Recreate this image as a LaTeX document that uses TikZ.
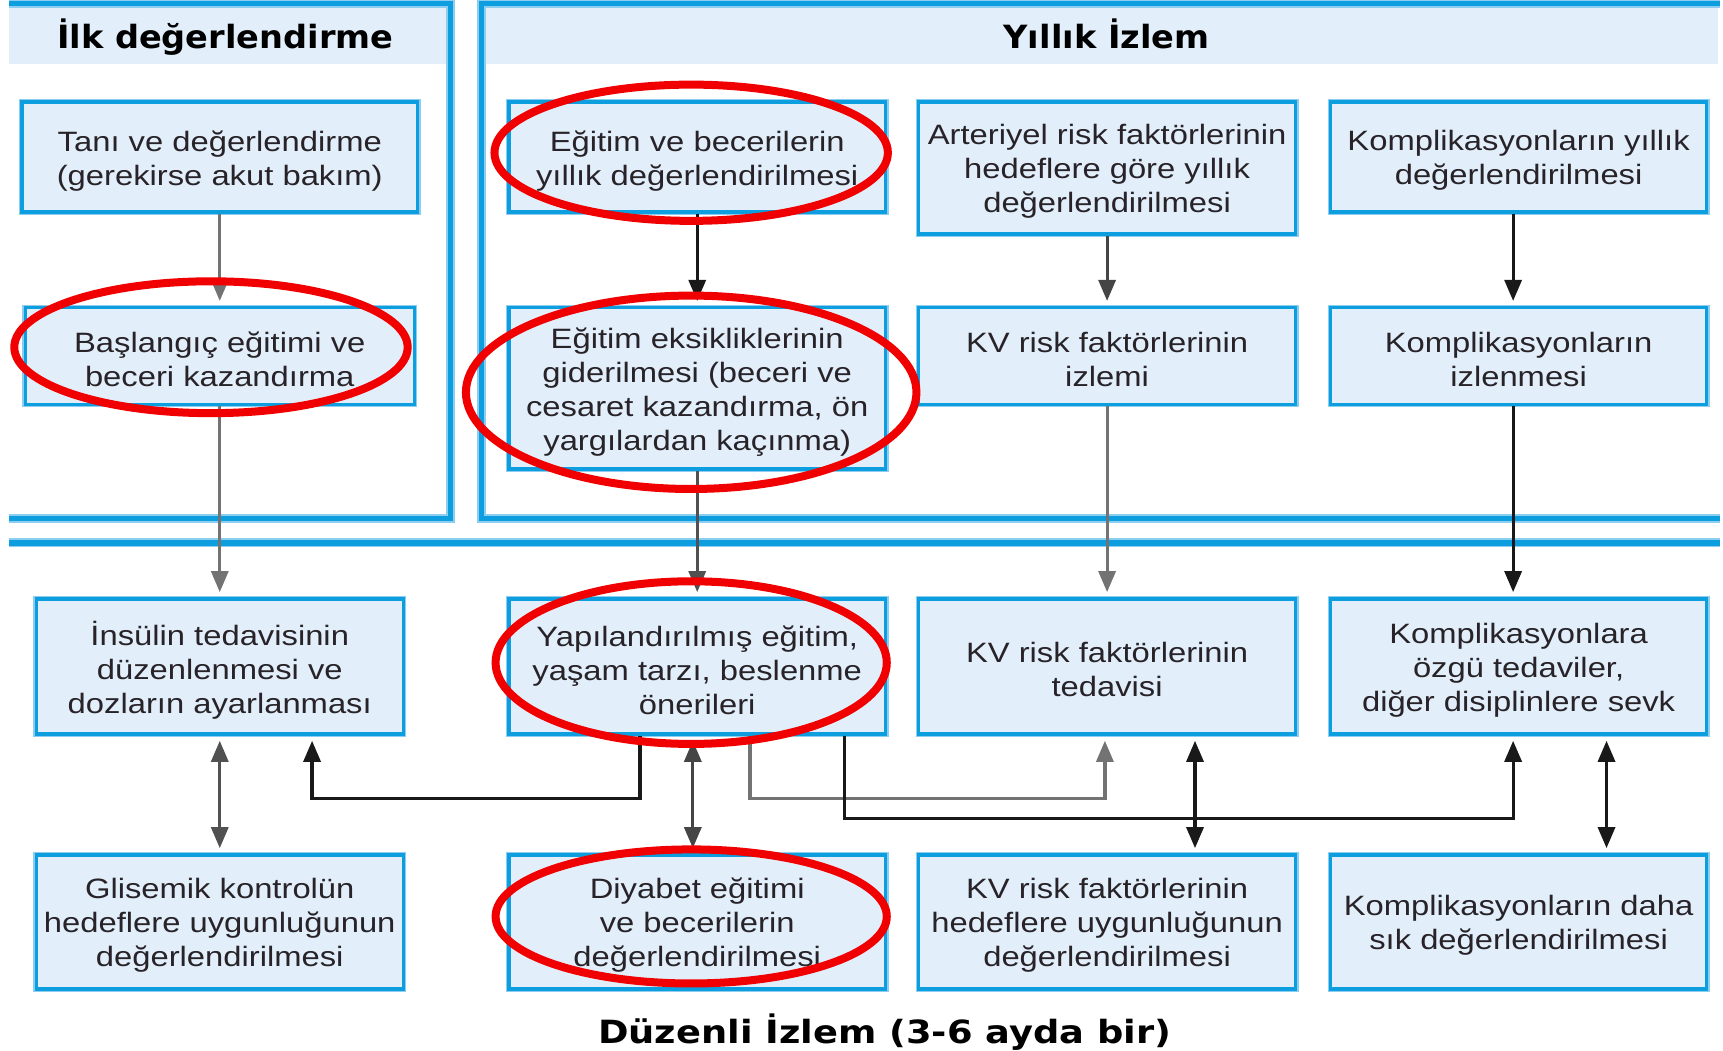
\documentclass[tikz,border=0pt]{standalone}
\usepackage{fontspec}
\setmainfont[FakeStretch=1.17]{Liberation Sans}
\newfontfamily\ttlfont[FakeStretch=1.05]{DejaVu Sans}
\newfontfamily\ttlwide[FakeStretch=1.15]{DejaVu Sans}
\usetikzlibrary{arrows.meta,calc,fit}
\definecolor{fillb}{RGB}{226,239,250}
\definecolor{lineb}{RGB}{12,158,222}
\definecolor{halob}{RGB}{140,205,240}
\definecolor{rede}{RGB}{240,0,0}
\definecolor{greyc}{RGB}{115,115,115}
\definecolor{blackc}{RGB}{25,25,25}
\definecolor{txt}{RGB}{40,35,40}
\tikzset{
  box/.style={draw=lineb, line width=3.5pt, fill=fillb, inner sep=0pt,
    preaction={draw=halob, line width=6pt}},
  boxtext/.style={align=center, inner sep=0pt, text=txt, yshift=-3.5pt, font=\fontsize{28}{34}\selectfont},
  frameline/.style={draw=lineb, line width=5.5pt,
    preaction={draw=halob, line width=9pt}},
  ttl/.style={font=\ttlfont\bfseries\fontsize{32}{36}\selectfont, text=black, inner sep=0pt},
  conn/.style={line width=3.2pt, -{Triangle[width=17pt,length=21pt]}, shorten >=5pt},
  dconn/.style={line width=3.2pt, {Triangle[width=17pt,length=21pt]}-{Triangle[width=17pt,length=21pt]}, shorten >=5pt, shorten <=5pt},
  redell/.style={draw=rede, line width=8pt}
}
\begin{document}
\begin{tikzpicture}[x=1.0989pt,y=-1.0989pt]
\useasboundingbox (0,0) rectangle (1568,956);
% header bands
\fill[fillb] (8,5) rectangle (408,58);
\fill[fillb] (440,5) rectangle (1563,58);
% frames
\draw[frameline] (8,3) -- (410,3) -- (410,472) -- (8,472);
\draw[frameline] (1565,3) -- (438,3) -- (438,472) -- (1565,472);
\draw[frameline] (8,494) -- (1565,494);
% titles
\node[ttl] (t1) at (205,34) {İlk değerlendirme};
\node[ttl] (t2) at (1007,31) {Yıllık İzlem};
\node[ttl, font=\ttlwide\bfseries\fontsize{32}{36}\selectfont] (t3) at (805,939) {Düzenli İzlem (3-6 ayda bir)};
% boxes
\node[box, fit={(20,93) (380,193)}] (a1) {};
\node[box, fit={(463,93) (806,193)}] (b1) {};
\node[box, fit={(836,93) (1179,213)}] (c1) {};
\node[box, fit={(1211,93) (1553,193)}] (d1) {};
\node[box, fit={(23,280) (377,368)}] (a2) {};
\node[box, fit={(463,280) (806,427)}] (b2) {};
\node[box, fit={(836,280) (1179,368)}] (c2) {};
\node[box, fit={(1211,280) (1553,368)}] (d2) {};
\node[box, fit={(33,545) (367,668)}] (a3) {};
\node[box, fit={(463,545) (806,668)}] (b3) {};
\node[box, fit={(836,545) (1179,668)}] (c3) {};
\node[box, fit={(1211,545) (1553,668)}] (d3) {};
\node[box, fit={(33,778) (367,900)}] (a4) {};
\node[box, fit={(463,778) (806,900)}] (b4) {};
\node[box, fit={(836,778) (1179,900)}] (c4) {};
\node[box, fit={(1211,778) (1553,900)}] (d4) {};
% box texts
\node[boxtext] (a1t) at (a1.center) {Tanı ve değerlendirme\\(gerekirse akut bakım)};
\node[boxtext] (b1t) at (b1.center) {Eğitim ve becerilerin\\yıllık değerlendirilmesi};
\node[boxtext] (c1t) at (c1.center) {Arteriyel risk faktörlerinin\\hedeflere göre yıllık\\değerlendirilmesi};
\node[boxtext] (d1t) at (d1.center) {Komplikasyonların yıllık\\değerlendirilmesi};
\node[boxtext] (a2t) at (a2.center) {Başlangıç eğitimi ve\\beceri kazandırma};
\node[boxtext] (b2t) at (b2.center) {Eğitim eksikliklerinin\\giderilmesi (beceri ve\\cesaret kazandırma, ön\\yargılardan kaçınma)};
\node[boxtext] (c2t) at (c2.center) {KV risk faktörlerinin\\izlemi};
\node[boxtext] (d2t) at (d2.center) {Komplikasyonların\\izlenmesi};
\node[boxtext] (a3t) at (a3.center) {İnsülin tedavisinin\\düzenlenmesi ve\\dozların ayarlanması};
\node[boxtext] (b3t) at (b3.center) {Yapılandırılmış eğitim,\\yaşam tarzı, beslenme\\önerileri};
\node[boxtext] (c3t) at (c3.center) {KV risk faktörlerinin\\tedavisi};
\node[boxtext] (d3t) at (d3.center) {Komplikasyonlara\\özgü tedaviler,\\diğer disiplinlere sevk};
\node[boxtext] (a4t) at (a4.center) {Glisemik kontrolün\\hedeflere uygunluğunun\\değerlendirilmesi};
\node[boxtext] (b4t) at (b4.center) {Diyabet eğitimi\\ve becerilerin\\değerlendirilmesi};
\node[boxtext] (c4t) at (c4.center) {KV risk faktörlerinin\\hedeflere uygunluğunun\\değerlendirilmesi};
\node[boxtext] (d4t) at (d4.center) {Komplikasyonların daha\\sık değerlendirilmesi};
% vertical connectors
\draw[conn, greyc] (a1.south) -- (a2.north);
\draw[conn, greyc] (a2.south) -- (a3.north);
\draw[conn, blackc] (b1.south) -- (b2.north);
\draw[conn, greyc!70!black] (b2.south) -- (b3.north);
\draw[conn, greyc!60!black] (c1.south) -- (c2.north);
\draw[conn, greyc] (c2.south) -- (c3.north);
\draw[conn, blackc] ($(d1.south)+(-5,0)$) -- ($(d2.north)+(-5,0)$);
\draw[conn, blackc] ($(d2.south)+(-5,0)$) -- ($(d3.north)+(-5,0)$);
% double connectors
\draw[dconn, greyc!70!black] (a3.south) -- (a4.north);
\draw[dconn, greyc!60!black] ($(b3.south)+(-4,0)$) -- ($(b4.north)+(-4,0)$);
\draw[dconn, blackc] ($(c3.south)+(80,0)$) -- ($(c4.north)+(80,0)$);
\draw[dconn, blackc] ($(d3.south)+(80,0)$) -- ($(d4.north)+(80,0)$);
% elbow connectors
\draw[conn, blackc] ($(b3.south)+(-52,0)$) -- ++(0,57) -| ($(a3.south)+(84,0)$);
\draw[conn, greyc] ($(b3.south)+(48,0)$) -- ++(0,57) -| ($(c3.south)+(-2,0)$);
\draw[conn, blackc] ($(b3.south)+(134,0)$) -- ++(0,75) -| ($(d3.south)+(-5,0)$);
% red ellipses
\draw[redell] (629,139) ellipse [x radius=179, y radius=62];
\draw[redell] (192,316) ellipse [x radius=179, y radius=60];
\draw[redell] (629,357) ellipse [x radius=205, y radius=88];
\draw[redell] (629,603) ellipse [x radius=178, y radius=74];
\draw[redell] (629,834) ellipse [x radius=178, y radius=61];
\end{tikzpicture}
\end{document}
